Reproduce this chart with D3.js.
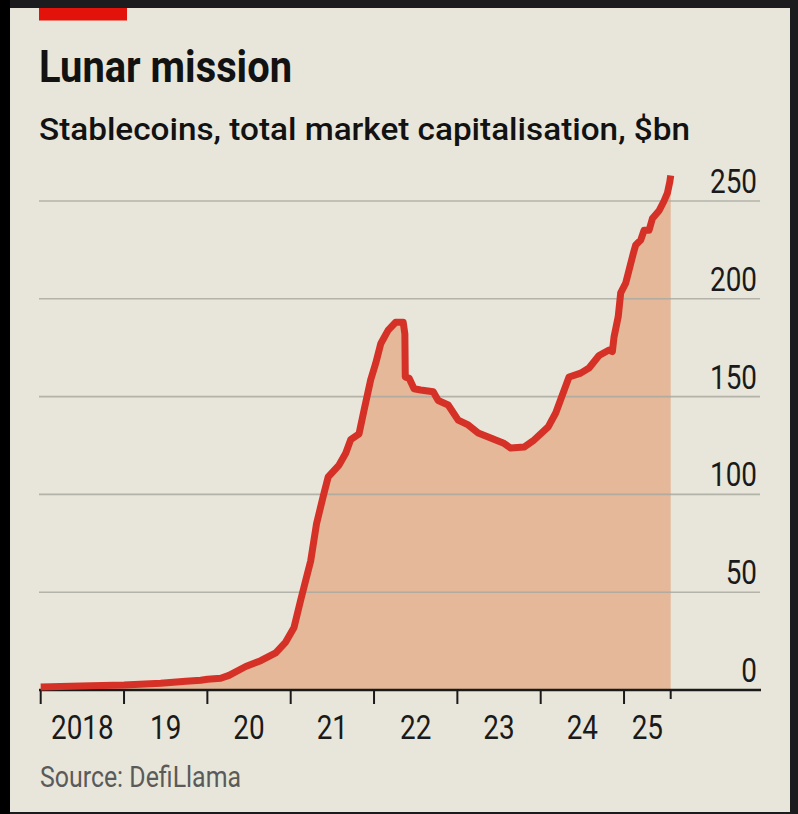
<!DOCTYPE html>
<html>
<head>
<meta charset="utf-8">
<script src="https://cdn.jsdelivr.net/npm/d3@7"></script>
<style>
  html, body { margin: 0; padding: 0; background: #1c1c1f; }
  svg { display: block; }
</style>
</head>
<body>
<script>
// ---- Data ----
const dates = [
  2018.00, 2018.48, 2019.00, 2019.44, 2019.74, 2019.92, 2020.00, 2020.16, 2020.26, 2020.46,
  2020.64, 2020.82, 2020.94, 2021.04, 2021.12, 2021.18, 2021.24, 2021.31, 2021.39, 2021.45,
  2021.58, 2021.66, 2021.72, 2021.82, 2021.88, 2021.96, 2022.02, 2022.08, 2022.17, 2022.26,
  2022.35, 2022.37, 2022.375, 2022.42, 2022.48, 2022.56, 2022.71, 2022.77, 2022.89, 2023.01,
  2023.13, 2023.25, 2023.40, 2023.55, 2023.64, 2023.80, 2023.92, 2024.09, 2024.18, 2024.27,
  2024.34, 2024.48, 2024.58, 2024.70, 2024.82, 2024.86, 2024.88, 2024.93, 2024.96, 2025.02,
  2025.06, 2025.11, 2025.14, 2025.20, 2025.24, 2025.30, 2025.34, 2025.42, 2025.48, 2025.52,
  2025.55, 2025.56
];
const values = [
  1.5, 2.0, 2.5, 3.5, 4.5, 5.0, 5.5, 6.0, 7.5, 12,
  15, 19, 24.5, 32, 46, 56, 66, 85, 99, 109,
  115, 121, 128, 131, 143, 158.6, 167, 177, 184, 188,
  188, 182, 160, 159.5, 154, 153.4, 152.5, 148, 145.7, 138,
  135.5, 131.4, 128.8, 126.3, 123.7, 124.2, 127.8, 134.5, 141.6, 152,
  160, 162, 164.6, 171, 173.8, 173, 180.5, 190.8, 203, 208,
  214.7, 223, 227.5, 230, 235, 235, 241, 245, 250, 254,
  260, 263
];
const yTicks = [0, 50, 100, 150, 200, 250];
const yearTicks = [2018, 2019, 2020, 2021, 2022, 2023, 2024, 2025];
const yearLabels = ["2018", "19", "20", "21", "22", "23", "24", "25"];
const dataEnd = 2025.56;

const title = "Lunar mission";
const subtitle = "Stablecoins, total market capitalisation, $bn";
const source = "Source: DefiLlama";

// ---- Layout ----
const W = 798, H = 814;
const svg = d3.select("body").append("svg").attr("width", W).attr("height", H);

// frame: dark borders around beige panel
svg.append("rect").attr("x", 0).attr("y", 0).attr("width", W).attr("height", H).attr("fill", "#1c1c1f");
svg.append("rect").attr("x", 0).attr("y", 0).attr("width", 10).attr("height", H).attr("fill", "#000");
svg.append("rect").attr("x", 10).attr("y", 8).attr("width", 780).attr("height", 804).attr("fill", "#e8e6da");

// red bar
svg.append("rect").attr("x", 39).attr("y", 8).attr("width", 88).attr("height", 12.5).attr("fill", "#e3120b");

const fontFam = "Roboto, 'Noto Sans', 'DejaVu Sans', sans-serif";

svg.append("text").attr("x", 39).attr("y", 82)
  .attr("font-family", fontFam).attr("font-weight", 700).attr("font-size", 45)
  .attr("textLength", 253).attr("lengthAdjust", "spacingAndGlyphs")
  .attr("fill", "#121212").text(title);

svg.append("text").attr("x", 39).attr("y", 140)
  .attr("font-family", fontFam).attr("font-weight", 500).attr("font-size", 32)
  .attr("textLength", 651).attr("lengthAdjust", "spacingAndGlyphs")
  .attr("fill", "#121212").text(subtitle);

// scales
const x = d3.scaleLinear().domain([2018, dataEnd]).range([40.7, 670.7]);
const y = d3.scaleLinear().domain([0, 250]).range([690, 201]);

const pts = dates.map((d, i) => [d, values[i]]);

// area
const area = d3.area().x(d => x(d[0])).y0(y(0)).y1(d => y(d[1]));
svg.append("path").datum(pts).attr("d", area).attr("fill", "#e4b899");

// gridlines
svg.append("g").selectAll("line").data(yTicks.filter(v => v > 0)).join("line")
  .attr("x1", 39).attr("x2", 760)
  .attr("y1", d => y(d)).attr("y2", d => y(d))
  .attr("stroke", "#a9a9a1").attr("stroke-opacity", 0.85).attr("stroke-width", 1.6);

// y labels
svg.append("g").selectAll("text").data(yTicks).join("text")
  .attr("transform", d => `translate(757,${y(d) - 8}) scale(0.82,1)`)
  .attr("text-anchor", "end")
  .attr("font-family", fontFam).attr("font-size", 34)
  .attr("fill", "#1a1a1a").text(d => d);

// x axis baseline
svg.append("line").attr("x1", 39).attr("x2", 761).attr("y1", 690).attr("y2", 690)
  .attr("stroke", "#1a1a1a").attr("stroke-width", 2.5);

// ticks
svg.append("g").selectAll("line").data(yearTicks).join("line")
  .attr("x1", d => x(d)).attr("x2", d => x(d))
  .attr("y1", 690).attr("y2", 704)
  .attr("stroke", "#1a1a1a").attr("stroke-width", 2);
svg.append("line").attr("x1", x(dataEnd)).attr("x2", x(dataEnd))
  .attr("y1", 690).attr("y2", 699)
  .attr("stroke", "#1a1a1a").attr("stroke-width", 2);

// year labels centred in each year interval
const labelCenters = yearTicks.map((t, i) => (x(t) + x(Math.min(t + 1, dataEnd))) / 2);
svg.append("g").selectAll("text").data(yearLabels).join("text")
  .attr("transform", (d, i) => `translate(${labelCenters[i]},739) scale(0.82,1)`)
  .attr("text-anchor", "middle")
  .attr("font-family", fontFam).attr("font-size", 34)
  .attr("fill", "#1a1a1a").text(d => d);

// line
const line = d3.line().x(d => x(d[0])).y(d => y(d[1]));
svg.append("path").datum(pts).attr("d", line)
  .attr("fill", "none").attr("stroke", "#d53127").attr("stroke-width", 7)
  .attr("stroke-linejoin", "round").attr("stroke-linecap", "butt");

// source
svg.append("text").attr("x", 40).attr("y", 787)
  .attr("font-family", fontFam).attr("font-size", 29)
  .attr("textLength", 201).attr("lengthAdjust", "spacingAndGlyphs")
  .attr("fill", "#5a5a5a").text(source);
</script>
</body>
</html>
